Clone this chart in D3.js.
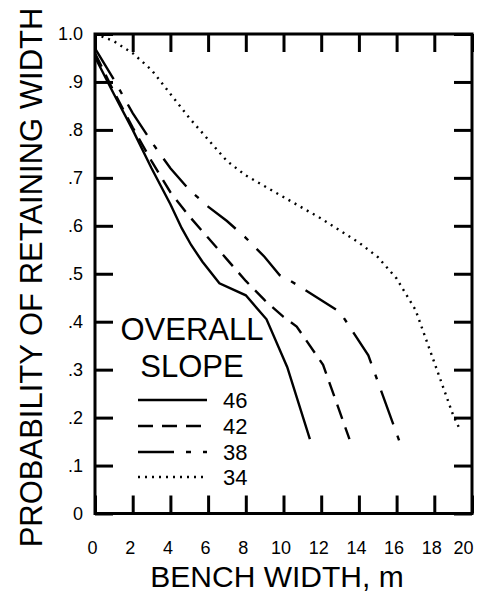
<!DOCTYPE html>
<html>
<head>
<meta charset="utf-8">
<script src="https://cdn.jsdelivr.net/npm/d3@7"></script>
<style>
  body { margin: 0; background: #fff; }
  svg { display: block; font-family: "Liberation Sans", Arial, sans-serif; }
</style>
</head>
<body>
<div id="chart"></div>
<script>
// Probability curves: [bench width (m), probability]
const slope46 = [[0,0.952],[1,0.875],[2,0.80],[3,0.72],[4,0.645],[4.6,0.595],[5.1,0.56],[5.7,0.525],[6.6,0.48],[8,0.455],[9.1,0.405],[10.2,0.305],[11.4,0.155]];
const slope42 = [[0,0.96],[1,0.88],[2,0.805],[3,0.735],[4,0.67],[5,0.62],[6,0.575],[7,0.53],[8,0.485],[9,0.445],[10,0.41],[10.7,0.39],[12.1,0.31],[13.5,0.155]];
const slope38 = [[0,0.97],[1,0.905],[2,0.835],[3,0.775],[4,0.72],[5,0.675],[6,0.64],[7,0.61],[8,0.575],[9,0.535],[9.8,0.497],[10.2,0.489],[11,0.47],[13,0.42],[14.5,0.33],[16.2,0.145]];
const slope34 = [[0,1.0],[1,0.985],[2,0.96],[3,0.925],[4,0.875],[5,0.825],[6,0.78],[7,0.735],[8,0.705],[10,0.66],[12,0.615],[14,0.565],[15,0.535],[16,0.49],[17,0.425],[18,0.315],[19,0.205],[19.3,0.18]];

const seriesNames = ["46", "42", "38", "34"];
const xTicks = [0, 2, 4, 6, 8, 10, 12, 14, 16, 18, 20];
const yTicks = [0, 0.1, 0.2, 0.3, 0.4, 0.5, 0.6, 0.7, 0.8, 0.9, 1.0];
const yTickLabels = ["0", ".1", ".2", ".3", ".4", ".5", ".6", ".7", ".8", ".9", "1.0"];

const width = 494;
const height = 594;
const plotLeft = 95, plotRight = 472, plotTop = 34, plotBottom = 513.5;

const series = [slope46, slope42, slope38, slope34];
const dashes = [null, "15,9", "36,12,5,12", "2,5"];

const svg = d3.select("#chart")
              .append("svg")
              .attr("width", width)
              .attr("height", height);

const x = d3.scaleLinear().domain([0, 20]).range([plotLeft, plotRight]);
const y = d3.scaleLinear().domain([0, 1]).range([plotBottom, plotTop]);

// inward ticks on all four sides
const tickLen = 18;

const xAxis = svg.append("g")
  .attr("transform", `translate(0,${plotBottom})`)
  .call(d3.axisBottom(x).tickValues(xTicks).tickSize(-tickLen).tickSizeOuter(0).tickPadding(28));

// labels sit a little left of their ticks, the last one pulled in from the frame
xAxis.selectAll(".tick text").attr("dx", d => d === 20 ? -9 : -3);

svg.append("g")
  .attr("transform", `translate(${plotLeft},0)`)
  .call(d3.axisLeft(y).tickValues(yTicks).tickSize(-tickLen).tickSizeOuter(0).tickPadding(12)
    .tickFormat((d, i) => yTickLabels[i]));

svg.append("g")
  .attr("transform", `translate(0,${plotTop})`)
  .call(d3.axisTop(x).tickValues(xTicks).tickSize(-tickLen).tickSizeOuter(0).tickFormat(""));

svg.append("g")
  .attr("transform", `translate(${plotRight},0)`)
  .call(d3.axisRight(y).tickValues(yTicks).tickSize(-tickLen).tickSizeOuter(0).tickFormat(""));

svg.selectAll(".domain").remove();
svg.selectAll(".tick line").attr("stroke", "#000").attr("stroke-width", 3);
svg.selectAll(".tick text")
   .attr("fill", "#000")
   .style("font-size", "18px")
   .style("font-family", "'Liberation Sans', Arial, sans-serif");

svg.append("rect")
   .attr("x", plotLeft)
   .attr("y", plotTop)
   .attr("width", plotRight - plotLeft)
   .attr("height", plotBottom - plotTop)
   .attr("fill", "none")
   .attr("stroke", "#000")
   .attr("stroke-width", 3);

// curves
const line = d3.line()
               .x(d => x(d[0]))
               .y(d => y(d[1]));

svg.append("g")
   .selectAll("path")
   .data(series)
   .enter().append("path")
     .attr("d", line)
     .attr("fill", "none")
     .attr("stroke", "#000")
     .attr("stroke-width", 2.4)
     .attr("stroke-dasharray", (d, i) => dashes[i]);

// legend
svg.append("text")
   .attr("x", 192).attr("y", 340)
   .attr("text-anchor", "middle")
   .style("font-size", "31px")
   .text("OVERALL");

svg.append("text")
   .attr("x", 192).attr("y", 377)
   .attr("text-anchor", "middle")
   .style("font-size", "31px")
   .text("SLOPE");

const legendY = [400, 426, 452, 477];
const legend = svg.append("g")
  .selectAll("g")
  .data(seriesNames)
  .enter().append("g")
    .attr("transform", (d, i) => `translate(0,${legendY[i]})`);

legend.append("line")
  .attr("x1", 138).attr("x2", 207)
  .attr("stroke", "#000")
  .attr("stroke-width", 2.4)
  .attr("stroke-dasharray", (d, i) => dashes[i]);

legend.append("text")
  .attr("x", 223)
  .attr("dy", "0.36em")
  .style("font-size", "22px")
  .text(d => d);

// axis titles
svg.append("text")
   .attr("x", 277)
   .attr("y", 587)
   .attr("text-anchor", "middle")
   .style("font-size", "30px")
   .text("BENCH WIDTH, m");

svg.append("text")
   .attr("transform", "translate(42,277.5) rotate(-90)")
   .attr("text-anchor", "middle")
   .style("font-size", "31px")
   .text("PROBABILITY OF RETAINING WIDTH");
</script>
</body>
</html>
